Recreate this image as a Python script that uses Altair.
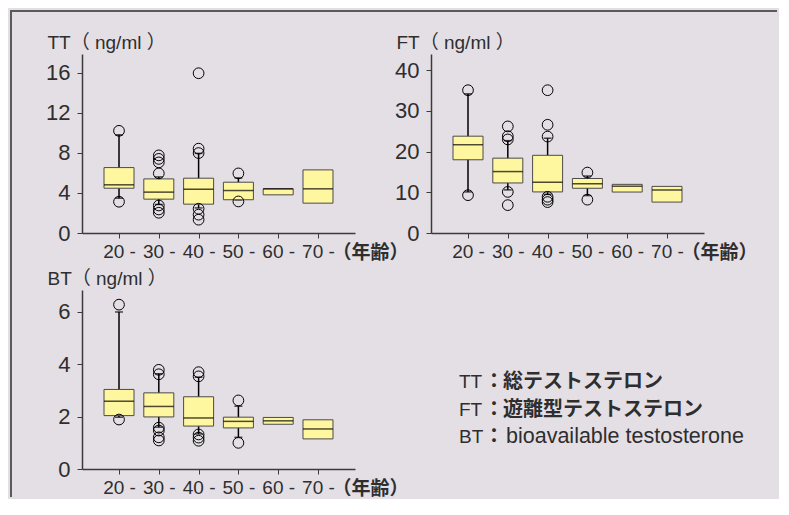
import altair as alt
import pandas as pd

AGES = ["20", "30", "40", "50", "60", "70"]

# TT (ng/ml)
TT_Q1 = [4.47, 3.38, 2.88, 3.32, 3.81, 2.98]
TT_MED = [4.81, 4.08, 4.37, 4.24, 4.41, 4.41]
TT_Q3 = [6.53, 5.40, 5.47, 5.07, 4.41, 6.30]
TT_WLO = [3.48, 2.85, 2.50, 3.30, None, None]
TT_WHI = [9.80, 5.60, 7.95, 5.50, None, None]
TT_OUT = [[10.2, 3.12], [7.75, 7.40, 7.05, 5.95, 2.75, 2.35, 2.02],
          [15.95, 8.42, 7.98, 2.42, 1.83, 1.33], [5.95, 3.15], [], []]

# FT (ng/ml)
FT_Q1 = [18.0, 12.3, 10.1, 11.0, 10.07, 7.6]
FT_MED = [21.7, 15.1, 12.5, 12.1, 11.5, 10.57]
FT_Q3 = [23.8, 18.4, 19.1, 13.4, 11.96, 11.46]
FT_WLO = [10.1, 10.6, 9.5, 9.2, None, None]
FT_WHI = [34.2, 22.7, 23.3, 14.0, None, None]
FT_OUT = [[35.1, 9.3], [26.2, 23.8, 23.0, 10.1, 6.85],
          [35.1, 26.6, 23.7, 8.9, 8.2, 7.6], [14.85, 8.2], [], []]

# BT (ng/ml)
BT_Q1 = [2.04, 1.99, 1.64, 1.57, 1.71, 1.15]
BT_MED = [2.59, 2.39, 1.95, 1.82, 1.84, 1.53]
BT_Q3 = [3.04, 2.91, 2.76, 1.98, 1.97, 1.88]
BT_WLO = [1.98, 1.60, 1.34, 1.21, None, None]
BT_WHI = [6.00, 3.64, 3.51, 2.40, None, None]
BT_OUT = [[6.28, 1.89], [3.79, 3.62, 1.58, 1.47, 1.21, 1.09],
          [3.70, 3.54, 1.32, 1.20, 1.08], [2.62, 1.00], [], []]

LEG_KEYS = ["TT", "FT", "BT"]
LEG_DESC = ["総テストステロン", "遊離型テストステロン", "bioavailable testosterone"]

BG = "#e4dfe5"
BOX_FILL = "#fff6a0"
INK = "#2e2e2e"
LATIN = "Liberation Sans, Noto Sans CJK JP"
CJK = "Noto Sans CJK JP"

W, H = 273, 179


def x_enc():
    return alt.X(
        "age:N",
        scale=alt.Scale(type="point", domain=AGES, padding=0.93),
        axis=alt.Axis(
            title="（年齢）", labelExpr="datum.label + ' -'", labelAngle=0,
            labelFontSize=19, labelBaseline="alphabetic", labelPadding=19,
            labelAlign="center", labelFont=LATIN, labelColor=INK,
            titleAngle=0, titleAlign="left", titleBaseline="alphabetic",
            titleX=250, titleY=25, titleFontSize=19, titleFontWeight="bold",
            titleFont=CJK, titleColor=INK, tickSize=5, grid=False,
        ),
    )


def y_enc(field, title, ymax, ticks):
    return alt.Y(
        f"{field}:Q",
        scale=alt.Scale(domain=[0, ymax], nice=False, zero=True),
        axis=alt.Axis(
            values=ticks, title=title, titleAngle=0, titleAlign="left",
            titleBaseline="alphabetic", titleX=-35, titleY=-6, titleFontSize=19,
            titleFontWeight="normal", titleFont=LATIN, titleColor=INK,
            labelFontSize=22, labelPadding=7, labelFont=LATIN, labelColor=INK,
            tickSize=5, grid=False, format="d",
        ),
    )


def panel(title, q1, med, q3, wlo, whi, outs, ymax, ticks, frame=False):
    box = pd.DataFrame({"age": AGES, "q1": q1, "med": med, "q3": q3})
    wh = pd.DataFrame({"age": AGES, "lo": wlo, "hi": whi}).dropna()
    caps = pd.concat([
        wh[["age", "lo"]].rename(columns={"lo": "c"}),
        wh[["age", "hi"]].rename(columns={"hi": "c"}),
    ])
    out = pd.DataFrame([(a, v) for a, vs in zip(AGES, outs) for v in vs],
                       columns=["age", "v"])

    whisk = alt.Chart(wh).mark_rule(color="black", strokeWidth=1.5).encode(
        x=x_enc(), y=y_enc("lo", title, ymax, ticks), y2="hi:Q")
    cap = alt.Chart(caps).mark_tick(color="black", size=8, thickness=1.5).encode(
        x=x_enc(), y=y_enc("c", title, ymax, ticks))
    bars = alt.Chart(box).mark_bar(size=30, fill=BOX_FILL, stroke="#4a4a4a",
                                   strokeWidth=1).encode(
        x=x_enc(), y=y_enc("q1", title, ymax, ticks), y2="q3:Q")
    medt = alt.Chart(box).mark_tick(color="black", size=30, thickness=1.5).encode(
        x=x_enc(), y=y_enc("med", title, ymax, ticks))
    pts = alt.Chart(out).mark_point(shape="circle", size=115, filled=False,
                                    color="black", strokeWidth=1, opacity=1).encode(
        x=x_enc(), y=y_enc("v", title, ymax, ticks))
    layers = [whisk, cap, bars, medt, pts]
    if frame:
        fdf = pd.DataFrame({"k": [0]})
        top = alt.Chart(fdf).mark_rule(color="#5a5a5a", strokeWidth=2).encode(
            x=alt.value(-72), x2=alt.value(695), y=alt.value(-43))
        left = alt.Chart(fdf).mark_rule(color="#5a5a5a", strokeWidth=2).encode(
            x=alt.value(-71), y=alt.value(-44), y2=alt.value(443))
        layers = [top, left] + layers
    return alt.layer(*layers).properties(width=W, height=H)


tt = panel("TT（ ng/ml ）", TT_Q1, TT_MED, TT_Q3, TT_WLO, TT_WHI, TT_OUT,
           17.87, [0, 4, 8, 12, 16], frame=True)
ft = panel("FT（ ng/ml ）", FT_Q1, FT_MED, FT_Q3, FT_WLO, FT_WHI, FT_OUT,
           44.0, [0, 10, 20, 30, 40])
bt = panel("BT（ ng/ml ）", BT_Q1, BT_MED, BT_Q3, BT_WLO, BT_WHI, BT_OUT,
           6.84, [0, 2, 4, 6])

# legend text block
leg_layers = []
base_y = [98, 126, 153]
for i, (k, d) in enumerate(zip(LEG_KEYS, LEG_DESC)):
    df = pd.DataFrame({"k": [k], "sep": ["："], "d": [d]})
    leg_layers.append(alt.Chart(df).mark_text(
        align="left", baseline="alphabetic", font=LATIN, fontSize=19, color=INK
    ).encode(text="k:N", x=alt.value(28), y=alt.value(base_y[i])))
    leg_layers.append(alt.Chart(df).mark_text(
        align="left", baseline="alphabetic", font=CJK, fontSize=20,
        fontWeight="bold", color=INK
    ).encode(text="sep:N", x=alt.value(53), y=alt.value(base_y[i])))
    if i < 2:
        leg_layers.append(alt.Chart(df).mark_text(
            align="left", baseline="alphabetic", font=CJK, fontSize=20,
            fontWeight="bold", color=INK
        ).encode(text="d:N", x=alt.value(72), y=alt.value(base_y[i])))
    else:
        leg_layers.append(alt.Chart(df).mark_text(
            align="left", baseline="alphabetic", font=LATIN, fontSize=21.5,
            color=INK
        ).encode(text="d:N", x=alt.value(75), y=alt.value(base_y[i])))
leg = alt.layer(*leg_layers).properties(width=W, height=H)

chart = alt.concat(
    tt, ft, bt, leg, columns=2, spacing={"row": 57, "column": 76}, bounds="flush"
).properties(
    padding=0, background=BG
).configure_view(
    stroke="transparent"
).configure_axis(
    domainColor="#3a3a3a", domainWidth=1.5, tickColor="#3a3a3a", tickWidth=1
)

chart.save("out.html", embed_options={"renderer": "svg", "actions": False})
